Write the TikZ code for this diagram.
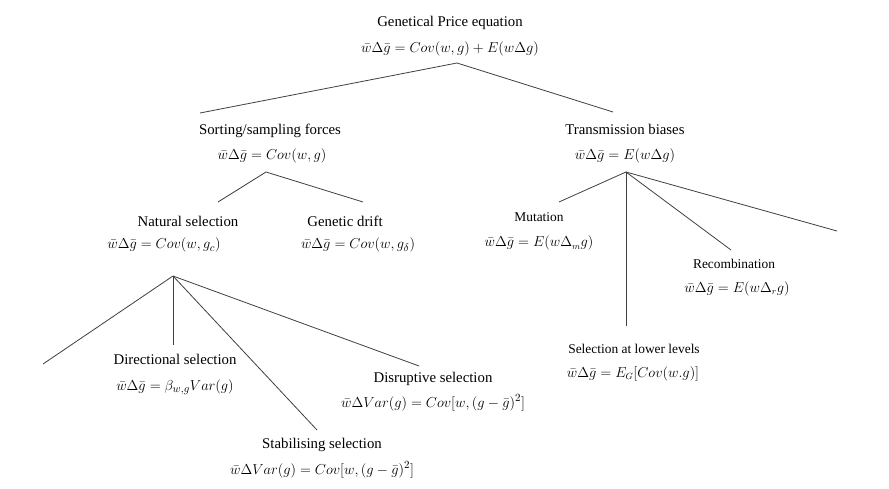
\documentclass[tikz,border=0pt]{standalone}
\usepackage{fontspec}
\setmainfont{Liberation Serif}
\newfontfamily\timesfont{Liberation Serif}
\begin{document}
\begin{tikzpicture}[x=1pt,y=-1pt,
  lbl/.style={inner sep=0pt,anchor=base,font=\timesfont\fontsize{14.8}{16}\selectfont},
  slbl/.style={inner sep=0pt,anchor=base,font=\timesfont\fontsize{13.4}{14}\selectfont},
  eq/.style={inner sep=0pt,anchor=base,font=\timesfont\fontsize{15.2}{16}\selectfont},
  seq/.style={inner sep=0pt,anchor=base,font=\timesfont\fontsize{13.4}{14}\selectfont},
  link/.style={draw=black!75,line width=0.8pt}]
\useasboundingbox[fill=white] (0,0) rectangle (889,489);
% root
\node[lbl] (root) at (450,27) {Genetical Price equation};
\node[eq] (rooteq) at (450,53) {$\bar w\Delta\bar g = Cov(w,g)+E(w\Delta g)$};
\coordinate (r) at (457,63);
% sorting
\node[lbl] (sort) at (270,135) {Sorting/sampling forces};
\node[eq] (sorteq) at (272,160) {$\bar w\Delta\bar g = Cov(w,g)$};
\coordinate (sortin) at (200,113);
\coordinate (s) at (266,172);
% transmission
\node[lbl] (trans) at (625,135) {Transmission biases};
\node[eq] (transeq) at (625,160) {$\bar w\Delta\bar g = E(w\Delta g)$};
\coordinate (transin) at (613,112);
\coordinate (t) at (626,172);
% natural selection / drift
\node[lbl] (nat) at (188,226) {Natural selection};
\node[eq] (nateq) at (164,249) {$\bar w\Delta\bar g = Cov(w,g_c)$};
\coordinate (natin) at (218,202);
\coordinate (n) at (173,276);
\node[lbl] (drift) at (345,226) {Genetic drift};
\node[eq] (drifteq) at (358,249) {$\bar w\Delta\bar g = Cov(w,g_\delta)$};
\coordinate (driftin) at (363,202);
% selection types
\coordinate (nleft) at (43,364);
\node[lbl] (dir) at (175,364) {Directional selection};
\node[eq] (direq) at (175,390) {$\bar w\Delta\bar g = \beta_{w,g}Var(g)$};
\coordinate (dirin) at (173,345);
\node[lbl] (stab) at (322,448) {Stabilising selection};
\node[eq] (stabeq) at (322,474) {$\bar w\Delta Var(g) = Cov[w,(g-\bar g)^2]$};
\coordinate (stabin) at (317,430);
\node[lbl] (disr) at (433,382) {Disruptive selection};
\node[eq] (disreq) at (433,407) {$\bar w\Delta Var(g) = Cov[w,(g-\bar g)^2]$};
\coordinate (disrin) at (419,366);
% transmission children
\node[slbl] (mut) at (539,222) {Mutation};
\node[seq] (muteq) at (539,247) {$\bar w\Delta\bar g = E(w\Delta_m g)$};
\coordinate (mutin) at (559,202);
\node[slbl] (low) at (634,353) {Selection at lower levels};
\node[seq] (loweq) at (633,377) {$\bar w\Delta\bar g = E_G[Cov(w.g)]$};
\coordinate (lowin) at (626,326);
\node[slbl] (rec) at (734,269) {Recombination};
\node[seq] (receq) at (737,292) {$\bar w\Delta\bar g = E(w\Delta_r g)$};
\coordinate (recin) at (731,250);
\coordinate (tright) at (837,231);
% connectors
\draw[link] (sortin) -- (r) -- (transin);
\draw[link] (natin) -- (s) -- (driftin);
\draw[link] (n) -- (nleft);
\draw[link] (n) -- (dirin);
\draw[link] (n) -- (stabin);
\draw[link] (n) -- (disrin);
\draw[link] (t) -- (mutin);
\draw[link] (t) -- (lowin);
\draw[link] (t) -- (recin);
\draw[link] (t) -- (tright);
\end{tikzpicture}
\end{document}
